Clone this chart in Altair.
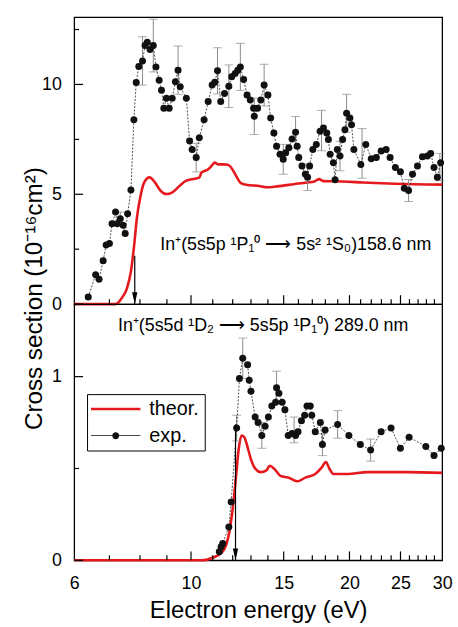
import altair as alt
import pandas as pd

# ---------------- data ----------------
top_exp_e = [6.38, 6.59, 6.69, 6.81, 6.90, 7.00, 7.08, 7.19, 7.24, 7.34, 7.43, 7.50, 7.58, 7.69, 7.79,
             7.87, 7.96, 8.09, 8.18, 8.26, 8.36, 8.48, 8.58, 8.70, 8.79, 8.88, 8.98, 9.09, 9.21, 9.34,
             9.45, 9.54, 9.80, 9.94, 10.05, 10.23, 10.37, 10.59, 10.78, 10.97, 11.10, 11.23, 11.39, 11.58,
             11.80, 11.95, 12.13, 12.27, 12.41, 12.59, 12.78, 12.96, 13.15, 13.19, 13.38, 13.57, 13.77,
             14.00, 14.17, 14.37, 14.54, 14.76, 14.97, 15.13, 15.34, 15.56, 15.80, 15.91, 16.02, 16.25,
             16.49, 16.65, 16.80, 17.04, 17.30, 17.59, 17.85, 18.11, 18.24, 18.38, 18.64, 18.78, 18.96,
             19.19, 19.41, 19.61, 19.75, 20.04, 20.18, 20.39, 21.02, 21.48, 22.00, 22.49, 22.97, 23.48,
             23.89, 24.45, 24.99, 25.42, 25.90, 26.35, 26.93, 27.52, 28.12, 28.53, 28.95, 29.37, 29.80]
top_exp_v = [0.32, 1.34, 1.13, 1.97, 2.69, 2.76, 3.66, 4.19, 3.66, 3.89, 3.59, 3.21, 4.11, 5.19, 8.39,
             10.09, 10.82, 11.07, 11.77, 11.92, 11.59, 11.77, 10.80, 10.19, 9.74, 8.92, 9.37, 8.92, 9.37,
             10.12, 10.65, 9.89, 9.37, 7.42, 7.04, 6.67, 7.57, 8.39, 9.22, 9.97, 10.10, 10.62, 9.22, 9.59,
             9.92, 10.35, 10.50, 10.65, 10.80, 10.23, 9.52, 9.29, 8.92, 8.55, 8.92, 9.29, 9.97, 9.52, 8.47,
             7.79, 7.19, 6.82, 6.59, 6.89, 7.12, 7.52, 7.82, 7.19, 6.67, 6.29, 5.91, 5.77, 6.29, 7.04, 7.27,
             7.87, 8.02, 7.79, 7.49, 6.82, 6.44, 5.66, 7.04, 6.74, 7.49, 7.94, 8.69, 8.47, 8.17, 7.04, 6.36,
             7.27, 6.62, 6.67, 6.97, 7.04, 6.67, 6.22, 6.02, 5.27, 5.17, 5.91, 6.29, 6.71, 6.74, 6.86, 6.22,
             5.77, 6.44]

top_err_e = [7.34, 8.09, 8.48, 9.45, 10.23, 11.23, 11.80, 12.41, 13.19, 13.77, 14.97, 15.80, 16.65,
             17.70, 19.19, 19.75, 21.13, 25.90, 29.70]
top_err_v = [3.89, 11.07, 11.77, 10.65, 6.67, 10.62, 9.92, 10.80, 8.55, 9.97, 6.59, 7.82, 5.77,
             7.90, 6.74, 8.69, 6.86, 5.17, 6.24]
top_err_d = [0.30, 1.10, 1.20, 1.10, 0.65, 1.05, 0.97, 1.07, 0.83, 0.95, 0.68, 0.72, 0.60,
             0.92, 0.67, 0.86, 1.13, 0.50, 0.62]

top_th_e = [6.0, 7.19, 7.39, 7.56, 7.69, 7.80, 7.89, 8.01, 8.15, 8.34, 8.54, 8.75, 8.98, 9.22, 9.49,
            9.80, 10.09, 10.38, 10.47, 10.78, 10.94, 11.10, 11.26, 11.50, 11.75, 11.92, 12.18, 12.44,
            12.81, 13.37, 13.97, 14.57, 15.68, 16.61, 17.10, 17.50, 17.85, 18.64, 21.22, 24.40, 30.0]
top_th_v = [0, 0, 0.28, 0.73, 1.49, 2.69, 3.89, 4.86, 5.54, 5.77, 5.54, 5.17, 5.01, 5.09, 5.36,
            5.62, 5.69, 5.77, 5.99, 6.14, 6.29, 6.44, 6.36, 6.36, 6.34, 6.22, 5.84, 5.51,
            5.42, 5.39, 5.32, 5.36, 5.46, 5.54, 5.57, 5.69, 5.60, 5.59, 5.54, 5.48, 5.44]

bot_exp_e = [11.32, 11.41, 11.49, 11.80, 11.92, 12.21, 12.36, 12.54, 12.81, 12.90, 13.00, 13.24, 13.41,
             13.63, 13.83, 14.03, 14.24, 14.48, 14.54, 14.69, 14.90, 15.08, 15.30, 15.56, 15.80, 15.97,
             16.21, 16.44, 16.61, 16.85, 16.96, 17.22, 17.61, 17.77, 17.98, 18.99, 19.95, 20.97, 21.94,
             22.97, 23.99, 24.99, 25.96, 27.93, 28.95, 29.88]
bot_exp_v = [0.047, 0.074, 0.092, 0.182, 0.317, 0.72, 0.99, 1.10, 1.065, 0.98, 0.92, 0.78, 0.75,
             0.68, 0.73, 0.78, 0.84, 0.86, 0.94, 0.91, 0.86, 0.82, 0.68, 0.69, 0.68, 0.70,
             0.76, 0.79, 0.84, 0.84, 0.79, 0.70, 0.75, 0.63, 0.71, 0.74, 0.68, 0.63, 0.60,
             0.70, 0.72, 0.61, 0.67, 0.62, 0.57, 0.61]

bot_err_e = [12.21, 12.54, 13.63, 14.54, 15.70, 17.77, 18.99, 21.94]
bot_err_v = [0.72, 1.10, 0.68, 0.94, 0.71, 0.63, 0.74, 0.60]
bot_err_d = [0.07, 0.11, 0.07, 0.09, 0.07, 0.06, 0.075, 0.06]

bot_th_e = [6.0, 10.52, 11.02, 11.42, 11.66, 11.83, 12.00, 12.18, 12.32, 12.47, 12.63, 12.81, 13.00,
            13.24, 13.57, 13.91, 14.11, 14.48, 14.79, 15.34, 15.91, 16.49, 17.22, 17.72, 18.04, 18.31,
            18.64, 19.87, 21.61, 25.60, 30.0]
bot_th_v = [0, 0, 0.015, 0.04, 0.083, 0.155, 0.28, 0.46, 0.605, 0.68, 0.67, 0.615, 0.55,
            0.50, 0.48, 0.49, 0.515, 0.49, 0.46, 0.45, 0.43, 0.45, 0.47, 0.506, 0.535, 0.50,
            0.47, 0.47, 0.48, 0.48, 0.476]

top_arrow_e = [7.82]
top_arrow_v = [2.2]
bot_arrow_e = [12.15]
bot_arrow_v = [0.74]

series_names = ["theor.", "exp."]
top_label = "In\u207a(5s5p \u00b9P\u2081\u2070 \u27f6 5s\u00b2 \u00b9S\u2080)158.6 nm"
bot_label = "In\u207a(5s5d \u00b9D\u2082 \u27f6 5s5p \u00b9P\u2081\u2070) 289.0 nm"
y_title = "Cross section (10\u207b\u00b9\u2076cm\u00b2)"
x_title = "Electron energy (eV)"

x_labels = [6, 10, 15, 20, 25, 30]
x_major = [10, 15, 20, 25]
x_minor = [7, 8, 9, 11, 12, 13, 14, 16, 17, 18, 19, 21, 22, 23, 24, 26, 27, 28, 29]
top_y_major = [0, 5, 10]
top_y_minor = [2.5, 7.5, 12.5]
bot_y_major = [0, 1]
bot_y_minor = [0.5]

# ---------------- style ----------------
RED = "#e5191d"
FONT = "Liberation Sans"
W = 372
H_TOP = 290
H_BOT = 259
MAJ = 9
MIN = 5

xscale = alt.Scale(type="log", domain=[6, 30], nice=False)
top_yscale = alt.Scale(domain=[0, 13.06], nice=False, zero=False)
bot_yscale = alt.Scale(domain=[0, 1.395], nice=False, zero=False)


def x_axis(show):
    kw = dict(orient="bottom", values=x_labels, domain=False, grid=False, ticks=False, format="d")
    if show:
        kw.update(labels=True, labelOverlap=False, labelFlush=False, labelBound=False,
                  labelFont=FONT, labelFontSize=18, labelColor="black", labelPadding=15,
                  title=x_title, titleFont=FONT, titleFontSize=24, titleFontWeight="normal",
                  titleColor="black", titlePadding=6)
    else:
        kw.update(labels=False, title="")
    return alt.Axis(**kw)


def y_axis(values, title):
    kw = dict(orient="left", values=values, domain=False, grid=False, ticks=False, format="d",
              labelOverlap=False, labelFlush=False, labelBound=False, labelFont=FONT,
              labelFontSize=18, labelColor="black", labelPadding=13)
    if title:
        kw.update(title=title, titleFont=FONT, titleFontSize=24.5, titleFontWeight="normal",
                  titleColor="black", titleAngle=270, titleAlign="center", titleBaseline="middle",
                  titleX=-40, titleY=284)
    else:
        kw.update(title="")
    return alt.Axis(**kw)


def panel(exp_e, exp_v, err_e, err_v, err_d, th_e, th_v, ar_e, ar_v, yscale, y_major, y_minor,
          y_title_text, show_x, height, label, lx, ly, legend=False):
    exp_df = pd.DataFrame({"E": exp_e, "v": exp_v})
    err_df = pd.DataFrame({"E": err_e, "lo": [a - b for a, b in zip(err_v, err_d)],
                           "hi": [a + b for a, b in zip(err_v, err_d)]})
    th_df = pd.DataFrame({"E": th_e, "v": th_v})
    ar_df = pd.DataFrame({"E": ar_e, "top": ar_v, "zero": [0] * len(ar_e)})
    txt_df = pd.DataFrame({"t": [label]})

    # other layers share the scales and leave the axis settings to the first layer
    xn = alt.X("E:Q", scale=xscale)

    theor = alt.Chart(th_df).mark_line(color=RED, strokeWidth=2.6, interpolate="monotone").encode(
        x=alt.X("E:Q", scale=xscale, axis=x_axis(show_x)),
        y=alt.Y("v:Q", scale=yscale, axis=y_axis(y_major, y_title_text)))

    # inward tick marks at the tick values, through the same scales
    def xticks(vals, ln):
        return alt.Chart(pd.DataFrame({"E": vals})).mark_rule(color="black", strokeWidth=1.2).encode(
            x=xn, y=alt.value(height), y2=alt.value(height - ln))

    def yticks(vals, ln):
        return alt.Chart(pd.DataFrame({"v": vals})).mark_rule(color="black", strokeWidth=1.2).encode(
            y=alt.Y("v:Q", scale=yscale), x=alt.value(0), x2=alt.value(ln))

    err_rule = alt.Chart(err_df).mark_rule(color="#8a8a8a", strokeWidth=1).encode(
        x=xn, y=alt.Y("lo:Q", scale=yscale), y2="hi:Q")
    err_lo = alt.Chart(err_df).mark_tick(color="#8a8a8a", orient="horizontal", size=9, thickness=1).encode(
        x=xn, y=alt.Y("lo:Q", scale=yscale))
    err_hi = alt.Chart(err_df).mark_tick(color="#8a8a8a", orient="horizontal", size=9, thickness=1).encode(
        x=xn, y=alt.Y("hi:Q", scale=yscale))
    exp_line = alt.Chart(exp_df).mark_line(color="#222222", strokeWidth=0.8, strokeDash=[2, 1.5]).encode(
        x=xn, y=alt.Y("v:Q", scale=yscale))
    exp_pts = alt.Chart(exp_df).mark_circle(color="#111111", size=50, opacity=1).encode(
        x=xn, y=alt.Y("v:Q", scale=yscale))
    ar_rule = alt.Chart(ar_df).mark_rule(color="black", strokeWidth=1.2).encode(
        x=xn, y=alt.Y("top:Q", scale=yscale), y2="zero:Q")
    ar_head = alt.Chart(ar_df).mark_point(shape="M-0.45,-1L0.45,-1L0,1Z", filled=True, color="black",
                                          size=144, opacity=1, yOffset=-6).encode(
        x=xn, y=alt.Y("zero:Q", scale=yscale))
    txt = alt.Chart(txt_df).mark_text(font=FONT, fontSize=18, color="black", align="center",
                                      baseline="middle").encode(
        x=alt.value(lx), y=alt.value(ly), text="t:N")
    layers = [theor, xticks(x_major, MAJ), xticks(x_minor, MIN), yticks(y_major, MAJ),
              yticks(y_minor, MIN), err_rule, err_lo, err_hi, exp_line, exp_pts, ar_rule, ar_head, txt]
    if legend:
        leg_df = pd.DataFrame({"s": series_names})
        lg = alt.Legend(orient="none", legendX=13, legendY=91, title=None, strokeColor="black",
                        padding=5, labelFont=FONT, labelFontSize=20, labelColor="black",
                        symbolSize=100, symbolStrokeWidth=2.6, symbolOpacity=1,
                        symbolOffset=14, labelOffset=24, rowPadding=7)
        exp_path = ("M-5,-0.09H5V0.09H-5Z M0.7,0A0.7,0.7 0 1,1 -0.7,0A0.7,0.7 0 1,1 0.7,0Z")
        th_path = "M-5,0H5"
        leg = alt.Chart(leg_df).mark_point(opacity=0).encode(
            fill=alt.Fill("s:N", scale=alt.Scale(domain=series_names, range=["transparent", "#111111"]),
                          legend=lg),
            stroke=alt.Stroke("s:N", scale=alt.Scale(domain=series_names, range=[RED, "transparent"]),
                              legend=lg),
            shape=alt.Shape("s:N", scale=alt.Scale(domain=series_names, range=[th_path, exp_path]),
                            legend=lg))
        layers.append(leg)
    return alt.layer(*layers).properties(width=W, height=height)


top = panel(top_exp_e, top_exp_v, top_err_e, top_err_v, top_err_d, top_th_e, top_th_v,
            top_arrow_e, top_arrow_v, top_yscale, top_y_major, top_y_minor, y_title,
            False, H_TOP, top_label, 224, 230)
bottom = panel(bot_exp_e, bot_exp_v, bot_err_e, bot_err_v, bot_err_d, bot_th_e, bot_th_v,
               bot_arrow_e, bot_arrow_v, bot_yscale, bot_y_major, bot_y_minor, None,
               True, H_BOT, bot_label, 191, 22, legend=True)

chart = alt.vconcat(top, bottom, spacing=0, bounds="flush").resolve_scale(
    fill="independent", stroke="independent", shape="independent"
).properties(
    padding={"left": 21, "top": 13, "right": 5, "bottom": 0}
).configure(font=FONT).configure_view(stroke="black", strokeWidth=1.3)

chart.save("out.html", embed_options={"renderer": "svg", "actions": False})
